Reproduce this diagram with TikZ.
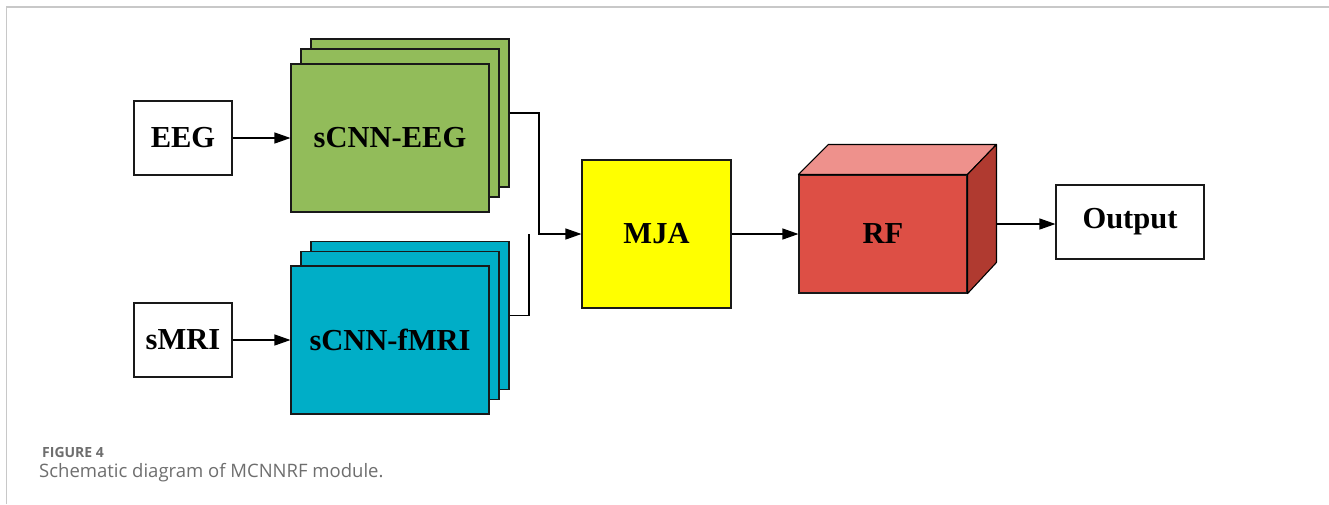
\documentclass[tikz,border=0pt]{standalone}
\usepackage{fontspec}
\setmainfont{Liberation Serif}
\newfontfamily\capfont{Open Sans}
\usetikzlibrary{arrows.meta,calc}
\definecolor{cgreen}{HTML}{92BC5A}
\definecolor{ccyan}{HTML}{00AEC7}
\definecolor{cyel}{HTML}{FFFF00}
\definecolor{rfront}{HTML}{DD4F45}
\definecolor{rtop}{HTML}{EE918C}
\definecolor{rside}{HTML}{B03A30}
\definecolor{capgray}{HTML}{6E6E6E}
\definecolor{framegray}{HTML}{C8C8C8}
\begin{document}
\begin{tikzpicture}[x=1pt,y=-1pt,
  box/.style={draw=black!90, line width=1.1pt, inner sep=0pt,
    font=\fontsize{30.5}{36}\selectfont\bfseries},
  inbox/.style={box, fill=white, minimum width=98pt, minimum height=74pt},
  layer/.style={box, minimum width=198pt, minimum height=148pt},
  arr/.style={-{Triangle[length=16pt,width=11pt]}, line width=1.2pt},
  conn/.style={line width=1.2pt}]
\useasboundingbox (0,0) rectangle (1329,504);
\draw[framegray, line width=1.5pt] (1329,7) -- (6.5,7) -- (6.5,504);

% inputs
\node[inbox] (eeg) at (183,138) {EEG};
\node[inbox] (smri) at (183,340) {sMRI};

% sCNN-EEG stack
\node[layer, fill=cgreen] (eegc) at (410,113) {};
\node[layer, fill=cgreen] (eegb) at (400,123) {};
\node[layer, fill=cgreen] (eega) at (390,138) {sCNN-EEG};

% sCNN-fMRI stack
\node[layer, fill=ccyan] (fmric) at (410,315.5) {};
\node[layer, fill=ccyan] (fmrib) at (400,325.5) {};
\node[layer, fill=ccyan] (fmria) at (390,340) {sCNN-fMRI};

% MJA
\node[box, fill=cyel, minimum width=149pt, minimum height=148pt] (mja) at (656.5,234) {MJA};

% RF cube
\node[box, fill=rfront, minimum width=168pt, minimum height=118pt] (rf) at (883,234) {RF};
\draw[line width=1.1pt, fill=rtop, line join=round]
  (rf.north west) -- ++(30,-30) coordinate (rftl) -- ++(168,0) coordinate (rftr) -- (rf.north east) -- cycle;
\draw[line width=1.1pt, fill=rside, line join=round]
  (rf.north east) -- (rftr) -- ++(0,118) coordinate (rfbr) -- (rf.south east) -- cycle;

% output
\node[inbox, minimum width=148pt] (out) at (1130,222) {Output};

% connectors
\draw[arr] (eeg) -- (eega);
\draw[arr] (smri) -- (fmria);
\coordinate (jx) at (539,0);
\coordinate (fx) at (529,0);
\draw[arr] (eegc.east) -| (jx |- mja.west) -- (mja.west);
\coordinate (fend) at (fx |- mja.west);
\draw[conn] (fmric.east) -| (fend);
\draw[arr] (mja) -- (rf);
\coordinate (oin) at ($(out.west)+(0,2)$);
\draw[arr] (oin -| rftr) -- (oin);

% caption
\node[anchor=base west, inner sep=0pt, text=capgray, font=\capfont\bfseries\fontsize{14}{17}\selectfont] (figlab) at (42,457) {FIGURE 4};
\node[anchor=base west, inner sep=0pt, text=capgray, font=\capfont\fontsize{18.5}{22}\selectfont] (figcap) at (39,477) {Schematic diagram of MCNNRF module.};
\end{tikzpicture}
\end{document}
